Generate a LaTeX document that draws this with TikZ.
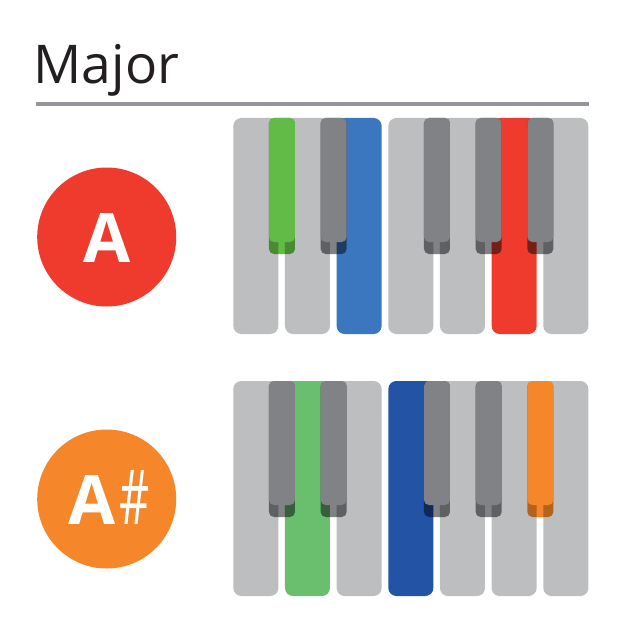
\documentclass[tikz,border=0pt]{standalone}
\usepackage{fontspec}
\setmainfont{Open Sans}
\definecolor{wk}{HTML}{BCBEC0}
\definecolor{bk}{HTML}{808285}
\definecolor{greenA}{HTML}{62BB46}
\definecolor{blueA}{HTML}{3A77BF}
\definecolor{redA}{HTML}{EF3B2E}
\definecolor{greenB}{HTML}{6ABF6F}
\definecolor{blueB}{HTML}{2253A4}
\definecolor{orangeB}{HTML}{F58629}
\definecolor{rulecol}{HTML}{939598}
\definecolor{titlecol}{HTML}{231F20}
\tikzset{
  whitekey/.style={rounded corners=8bp},
  blackkey/.style={rounded corners=5bp},
  badge/.style={circle, minimum size=139bp, inner sep=0pt},
  badgetext/.style={text=white, inner sep=0pt, anchor=base, font=\fontsize{68.6}{70}\selectfont\bfseries},
}
\begin{document}
\begin{tikzpicture}[x=1bp,y=-1bp]
\useasboundingbox (0,0) rectangle (621,621);
\fill[white] (0,0) rectangle (621,621);
% title
\node[anchor=base west, inner sep=0pt, text=titlecol, font=\fontsize{53.6}{60}\selectfont] (title) at (33.5,83.3) {Major};
\coordinate (ruleL) at (36,104);
\coordinate (ruleR) at (589,104);
\draw[rulecol, line width=4bp] (ruleL) -- (ruleR);
% badges
\node[badge, fill=redA] (cA) at (106.7,237) {};
\node[badgetext] (tA) at (106.7,262.3) {A};
\node[badge, fill=orangeB] (cAs) at (106.7,499) {};
\node[badgetext] (tAs) at (91.7,524.3) {A};
\node[text=white, inner sep=0pt, anchor=base, font=\fontsize{76}{78}\selectfont] (sharp) at (135,524.3) {\scalebox{0.62}[1]{\#}};
% top keyboard (A major)
\foreach \i/\c in {0/wk,1/wk,2/blueA,3/wk,4/wk,5/redA,6/wk}
  \fill[whitekey, \c] ({233.3+51.67*\i},118) rectangle ++(45,216);
\foreach \j/\c in {1/greenA,2/bk,4/bk,5/bk,6/bk}{
  \begin{scope}[blend mode=multiply]
    \fill[blackkey, \c] ({233.3+51.67*\j-16},118) rectangle ++(26,136);
  \end{scope}
  \fill[blackkey, \c] ({233.3+51.67*\j-16},118) rectangle ++(26,124);
}
% bottom keyboard (A# major)
\foreach \i/\c in {0/wk,1/greenB,2/wk,3/blueB,4/wk,5/wk,6/wk}
  \fill[whitekey, \c] ({233.3+51.67*\i},381) rectangle ++(45,215);
\foreach \j/\c in {1/bk,2/bk,4/bk,5/bk,6/orangeB}{
  \begin{scope}[blend mode=multiply]
    \fill[blackkey, \c] ({233.3+51.67*\j-16},381) rectangle ++(26,136);
  \end{scope}
  \fill[blackkey, \c] ({233.3+51.67*\j-16},381) rectangle ++(26,124);
}
\end{tikzpicture}
\end{document}
